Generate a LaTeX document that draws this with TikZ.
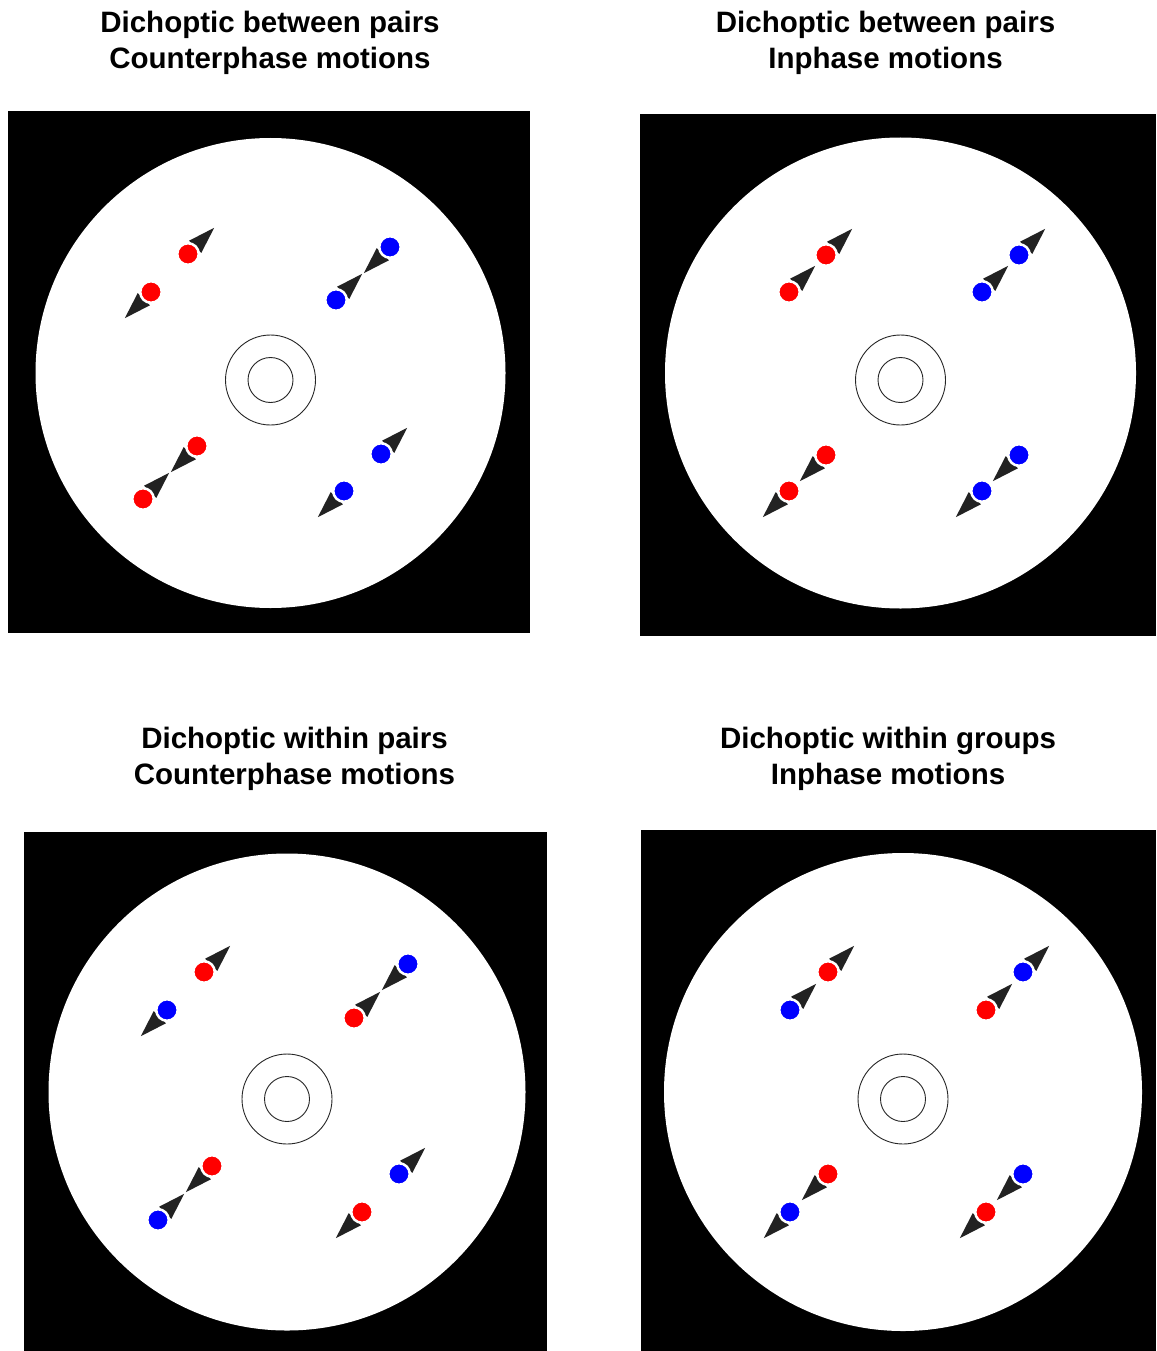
\documentclass[tikz,border=0pt]{standalone}
\usepackage{fontspec}
\setmainfont{Liberation Sans}
\usetikzlibrary{calc}

\definecolor{arrowgray}{HTML}{222222}
\definecolor{dotred}{HTML}{FF0000}
\definecolor{dotblue}{HTML}{0000FF}

\tikzset{
  panel/.style={fill=black, draw=none},
  field/.style={fill=white, draw=none},
  fixring/.style={draw=black!85, line width=0.9pt},
  arrowfill/.style={fill=arrowgray},
  dot/.style={circle, inner sep=0pt, minimum size=21.5pt, draw=white, line width=2.5pt},
  title/.style={anchor=base, font=\fontsize{29.5}{36}\selectfont\bfseries, inner sep=0pt},
}

% a moving dot: #1 name, #2 colour, #3 position, #4 = 1 up-right / -1 down-left
\newcommand\mover[4]{%
  \coordinate (#1) at #3;
  \fill[arrowfill, shift={(#1)}, scale=#4] (26.2,-26.2) -- (1.1,-13.3) -- (13.3,-1.1) -- cycle;
  \node[dot, fill=#2] (#1d) at (#1) {};
}

% one display: black square, white field and fixation rings
\newcommand\display[5]{% #1,#2 corners, #3 field centre, #4 field radius, #5 fixation centre
  \fill[panel] #1 rectangle #2;
  \fill[field] #3 circle (#4);
  \draw[fixring] #5 circle (45);
  \draw[fixring] #5 circle (22.5);
}

\begin{document}
\begin{tikzpicture}[x=1pt, y=-1pt]
  \useasboundingbox[fill=white] (0,0) rectangle (1156,1351);

  % titles
  \node[title] (t1a) at (270,33) {Dichoptic between pairs};
  \node[title] (t1b) at (270,69) {Counterphase motions};
  \node[title] (t2a) at (885.5,33) {Dichoptic between pairs};
  \node[title] (t2b) at (885.5,69) {Inphase motions};
  \node[title] (t3a) at (294.5,748) {Dichoptic within pairs};
  \node[title] (t3b) at (294.5,784) {Counterphase motions};
  \node[title] (t4a) at (888,748) {Dichoptic within groups};
  \node[title] (t4b) at (888,784) {Inphase motions};

  % displays
  \display{(8,111)}{(530,633)}{(270.5,373)}{235}{(270.5,380)}
  \display{(640,114)}{(1156,636)}{(900.5,373)}{235.5}{(900.5,380)}
  \display{(24,832)}{(547,1351)}{(287,1092)}{238.5}{(287,1099)}
  \display{(641,830)}{(1156,1351)}{(903,1092)}{239}{(903,1099)}

  % between pairs, counterphase
  \mover{a1}{dotred}{(188,254)}{1}
  \mover{a2}{dotred}{(151,292)}{-1}
  \mover{a3}{dotblue}{(390,247)}{-1}
  \mover{a4}{dotblue}{(336,300)}{1}
  \mover{a5}{dotred}{(197,446)}{-1}
  \mover{a6}{dotred}{(143,499)}{1}
  \mover{a7}{dotblue}{(381,454)}{1}
  \mover{a8}{dotblue}{(344,491)}{-1}

  % between pairs, inphase
  \mover{b1}{dotred}{(826,255)}{1}
  \mover{b2}{dotred}{(789,292)}{1}
  \mover{b3}{dotblue}{(1019,255)}{1}
  \mover{b4}{dotblue}{(982,292)}{1}
  \mover{b5}{dotred}{(826,455)}{-1}
  \mover{b6}{dotred}{(789,491)}{-1}
  \mover{b7}{dotblue}{(1019,455)}{-1}
  \mover{b8}{dotblue}{(982,491)}{-1}

  % within pairs, counterphase
  \mover{c1}{dotred}{(204,972)}{1}
  \mover{c2}{dotblue}{(167,1010)}{-1}
  \mover{c3}{dotblue}{(408,964)}{-1}
  \mover{c4}{dotred}{(354,1018)}{1}
  \mover{c5}{dotred}{(212,1166)}{-1}
  \mover{c6}{dotblue}{(158,1220)}{1}
  \mover{c7}{dotblue}{(399,1174)}{1}
  \mover{c8}{dotred}{(362,1212)}{-1}

  % within groups, inphase
  \mover{d1}{dotred}{(828,972)}{1}
  \mover{d2}{dotblue}{(790,1010)}{1}
  \mover{d3}{dotblue}{(1023,972)}{1}
  \mover{d4}{dotred}{(986,1010)}{1}
  \mover{d5}{dotred}{(828,1174)}{-1}
  \mover{d6}{dotblue}{(790,1212)}{-1}
  \mover{d7}{dotblue}{(1023,1174)}{-1}
  \mover{d8}{dotred}{(986,1212)}{-1}
\end{tikzpicture}
\end{document}
